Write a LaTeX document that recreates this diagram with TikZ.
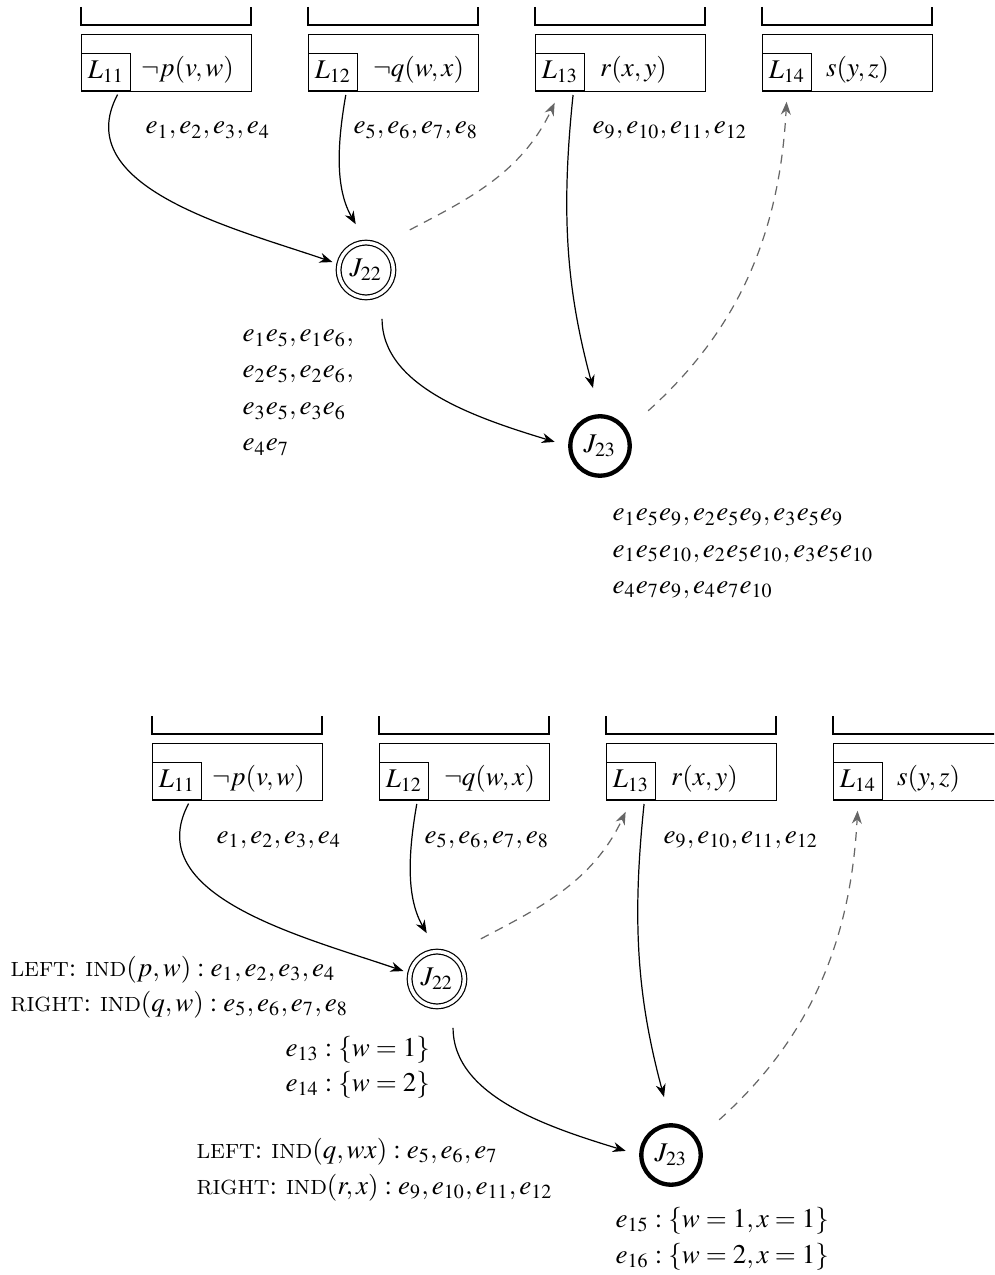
\documentclass[tikz,border=0pt]{standalone}
\usepackage{mathptmx}
\usetikzlibrary{arrows.meta,calc}

\tikzset{
  slot/.style={draw, line width=0.45pt},
  clause/.style={draw, line width=0.45pt, minimum width=62.97pt, minimum height=21.1pt,
    inner sep=0pt, anchor=north west},
  lit/.style={draw, line width=0.45pt, minimum width=18.15pt, minimum height=13.7pt,
    inner sep=0pt, anchor=south west},
  pred/.style={inner sep=0pt},
  joinA/.style={circle, draw, double, line width=0.45pt, double distance=1.3pt,
    minimum size=20.3pt, inner sep=0pt},
  joinB/.style={circle, draw, line width=1.6pt, minimum size=22pt, inner sep=0pt},
  flow/.style={-{Stealth[length=4.8pt,width=3.7pt]}, line width=0.45pt},
  back/.style={flow, black!60, dash pattern=on 3.3pt off 2.6pt},
  ann/.style={anchor=base west, inner sep=0pt},
}

% small capitals drawn from scaled upright capitals
\newcommand\capword[1]{{\fontsize{7.6}{8}\selectfont #1}}

% one row of clause slots with the join nodes and their connectors
\newcommand\clauserow[1]{%
  \foreach \x in {81,308,535,762}{\draw[slot] (\x,7) |- (\x+170,25) -- (\x+170,7);}
  \node[clause] (#1C11) at (81,34) {};
  \node[clause] (#1C12) at (308,34) {};
  \node[clause] (#1C13) at (535,34) {};
  \node[clause] (#1C14) at (762,34) {};
  \node[lit] (#1L11) at (81,91) {$L_{11}$};
  \node[lit] (#1L12) at (308,91) {$L_{12}$};
  \node[lit] (#1L13) at (535,91) {$L_{13}$};
  \node[lit] (#1L14) at (762,91) {$L_{14}$};
  \node[pred] (#1P11) at (187.5,70) {$\neg p(v,w)$};
  \node[pred] (#1P12) at (418.5,70) {$\neg q(w,x)$};
  \node[pred] (#1P13) at (633.5,70) {$r(x,y)$};
  \node[pred] (#1P14) at (857.5,70) {$s(y,z)$};
  \node[ann] (#1E1) at (145,134) {$e_1,e_2,e_3,e_4$};
  \node[ann] (#1E2) at (353,134) {$e_5,e_6,e_7,e_8$};
  \node[ann] (#1E3) at (592,134) {$e_9,e_{10},e_{11},e_{12}$};
  \node[joinA] (#1J22) at (366,270) {$J_{22}$};
  \node[joinB] (#1J23) at (600,446) {$J_{23}$};
  \draw[flow, shorten <=1.5pt, shorten >=2.4pt] (#1L11.-55) to[out=-118,in=161] (#1J22.168);
  \draw[flow, shorten <=1.5pt, shorten >=7.6pt] (#1L12.-55) to[out=-100,in=120] (#1J22.north);
  \draw[back, shorten <=12.5pt, shorten >=4.8pt] (#1J22.60) to[out=28,in=-115] (#1L13.south);
  \draw[flow, shorten <=1.5pt, shorten >=10pt] (#1L13.-55) to[out=-96,in=105] (#1J23.north);
  \draw[flow, shorten <=9.6pt, shorten >=5.2pt] (#1J22.-55) to[out=-90,in=163] (#1J23.west);
  \draw[back, shorten <=10.4pt, shorten >=4pt] (#1J23.31) to[out=42,in=-93] (#1L14.south);
}

\begin{document}
\begin{tikzpicture}[x=0.3704pt, y=-0.3704pt]
  \useasboundingbox (0,0) rectangle (994,1275);
  \clip (0,0) rectangle (994,1275);

  % upper diagram: tuples produced at each join
  \clauserow{t}
  \node[ann] (tA1) at (242,342) {$e_1e_5,e_1e_6,$};
  \node[ann] (tA2) at (242,378) {$e_2e_5,e_2e_6,$};
  \node[ann] (tA3) at (242,415) {$e_3e_5,e_3e_6$};
  \node[ann] (tA4) at (242,451) {$e_4e_7$};
  \node[ann] (tB1) at (612,521) {$e_1e_5e_9,e_2e_5e_9,e_3e_5e_9$};
  \node[ann] (tB2) at (612,557) {$e_1e_5e_{10},e_2e_5e_{10},e_3e_5e_{10}$};
  \node[ann] (tB3) at (612,593) {$e_4e_7e_9,e_4e_7e_{10}$};

  % lower diagram: indexed inputs and derived bindings
  \begin{scope}[shift={(71,709)}]
    \clauserow{b}
  \end{scope}
  \node[ann] (bA1) at (10,976) {\capword{LEFT}: \capword{IND}$(p,w):e_1,e_2,e_3,e_4$};
  \node[ann] (bA2) at (10,1011) {\capword{RIGHT}: \capword{IND}$(q,w):e_5,e_6,e_7,e_8$};
  \node[ann] (bA3) at (285,1056) {$e_{13}:\{w=1\}$};
  \node[ann] (bA4) at (285,1091) {$e_{14}:\{w=2\}$};
  \node[ann] (bB1) at (196,1158) {\capword{LEFT}: \capword{IND}$(q,wx):e_5,e_6,e_7$};
  \node[ann] (bB2) at (196,1194) {\capword{RIGHT}: \capword{IND}$(r,x):e_9,e_{10},e_{11},e_{12}$};
  \node[ann] (bB3) at (615,1227) {$e_{15}:\{w=1,x=1\}$};
  \node[ann] (bB4) at (615,1263) {$e_{16}:\{w=2,x=1\}$};
\end{tikzpicture}
\end{document}
